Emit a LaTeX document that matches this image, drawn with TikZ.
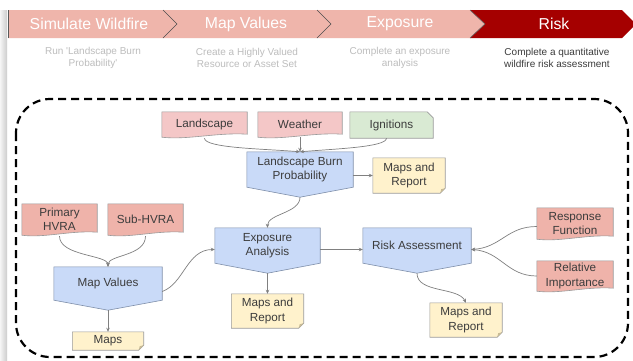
\documentclass[tikz,border=0pt]{standalone}
\usepackage{fontspec}
\setmainfont{Liberation Sans}
\usetikzlibrary{arrows.meta,calc,backgrounds}
\definecolor{chevl}{HTML}{EFB5AB}
\definecolor{chevd}{HTML}{A50000}
\definecolor{subg}{HTML}{BDBDBD}
\definecolor{pinka}{HTML}{F4C7C7}
\definecolor{pinkb}{HTML}{EFB3AA}
\definecolor{greenf}{HTML}{D9EAD3}
\definecolor{yellowf}{HTML}{FFF2CC}
\definecolor{bluef}{HTML}{C9DAF8}
\definecolor{bluebd}{HTML}{7F8FAA}
\definecolor{bordc}{HTML}{9A9A9A}
\definecolor{foldc}{HTML}{C8BB96}
\definecolor{textc}{HTML}{3C3C3C}
\definecolor{connc}{HTML}{808080}
\tikzset{
  box/.style={inner sep=0pt, align=center, font=\fontsize{11.7}{14.5}\selectfont, text=textc},
  conn/.style={draw=connc, line width=0.7pt, -{Stealth[length=4pt,width=3.5pt]}},
  shp/.style={line width=0.6pt},
  chevtxt/.style={font=\fontsize{15.8}{18}\selectfont, text=white},
  subtxt/.style={font=\fontsize{10}{11.8}\selectfont, text=subg, align=center},
}
\newcommand{\docshape}[2]{%
  \begin{scope}[on background layer]
  \path[shp, fill=#2, draw=bordc] (#1.north west) -- (#1.north east) -- ([yshift=3pt]#1.south east)
    .. controls ($(#1.south west)!0.65!(#1.south east)+(0,-5)$) and ($(#1.south west)!0.3!(#1.south east)+(0,3)$) .. (#1.south west) -- cycle;
  \end{scope}}
\newcommand{\procshape}[1]{%
  \begin{scope}[on background layer]
  \path[shp, fill=bluef, draw=bluebd] (#1.north west) -- (#1.north east) -- (#1.south east)
    -- ([yshift=-10pt]#1.south) -- (#1.south west) -- cycle;
  \end{scope}
  \coordinate (#1-tip) at ([yshift=-10pt]#1.south);}
\newcommand{\noteshape}[1]{%
  \begin{scope}[on background layer]
  \path[shp, fill=yellowf, draw=bordc] (#1.north west) -- (#1.north east) -- ([yshift=5pt]#1.south east)
    -- ([xshift=-5pt]#1.south east) -- (#1.south west) -- cycle;
  \path[fill=foldc] ([yshift=5pt]#1.south east) -- ([xshift=-5pt]#1.south east) -- ([xshift=-4pt,yshift=4pt]#1.south east) -- cycle;
  \end{scope}}
\newcommand{\topnote}[2]{%
  \begin{scope}[on background layer]
  \path[shp, fill=#2, draw=bordc] (#1.north west) -- ([xshift=-6pt]#1.north east) -- ([yshift=-6pt]#1.north east)
    -- (#1.south east) -- (#1.south west) -- cycle;
  \end{scope}}
\begin{document}
\begin{tikzpicture}[x=1pt,y=-1pt]
\useasboundingbox (0,0) rectangle (633,360);
\begin{scope}[on background layer]
\fill[white] (0,0) rectangle (633,360);
\end{scope}
% left shadow strip
\shade[left color=gray!8, right color=gray!40] (0,10) rectangle (7,360);
% chevron bar
\fill[chevl] (8,10) -- (470,10) -- (485,24) -- (470,38) -- (8,38) -- cycle;
\fill[chevd] (470,10) -- (622,10) -- (636,24) -- (622,38) -- (470,38) -- (485,24) -- cycle;
\draw[gray!70!black, line width=0.5pt] (8,10) -- (8,38);
\draw[black!70, line width=0.6pt] (163,10) -- (177,24) -- (163,38);
\draw[black!70, line width=0.6pt] (317,10) -- (331,24) -- (317,38);
\draw[black!60, line width=0.6pt] (470,10) -- (485,24) -- (470,38);
\node[chevtxt] (c1) at (89,24) {Simulate Wildfire};
\node[chevtxt] (c2) at (246,24) {Map Values};
\node[chevtxt] (c3) at (400,24) {Exposure};
\node[chevtxt] (c4) at (554,24) {Risk};
\node[subtxt] (s1) at (93,58) {Run \textquotesingle Landscape Burn\\Probability\textquotesingle};
\node[subtxt] (s2) at (247,58) {Create a Highly Valued\\Resource or Asset Set};
\node[subtxt] (s3) at (400,58) {Complete an exposure\\analysis};
\node[subtxt, text=textc] (s4) at (557,58) {Complete a quantitative\\wildfire risk assessment};
% dashed frame
\draw[line width=2.2pt, dash pattern=on 8pt off 5pt, rounded corners=34pt] (16,99) rectangle (628,357);
% nodes
\node[box, minimum width=85pt, minimum height=25pt] (land) at (204.5,124.5) {Landscape};
\docshape{land}{pinka}
\node[box, minimum width=84pt, minimum height=25pt] (weather) at (300,124.5) {Weather};
\docshape{weather}{pinka}
\node[box, minimum width=83pt, minimum height=26pt] (ign) at (391.5,125) {Ignitions};
\topnote{ign}{greenf}
\node[box, minimum width=106pt, minimum height=35pt] (lbp) at (300,169.5) {Landscape Burn\\Probability};
\procshape{lbp}
\node[box, minimum width=72pt, minimum height=35pt] (mr1) at (409,175.5) {Maps and\\Report};
\noteshape{mr1}
\node[box, minimum width=75pt, minimum height=31pt] (phvra) at (59.5,219.5) {Primary\\HVRA};
\docshape{phvra}{pinkb}
\node[box, minimum width=75pt, minimum height=31pt] (shvra) at (145.5,219.5) {Sub-HVRA};
\docshape{shvra}{pinkb}
\node[box, minimum width=108pt, minimum height=33pt] (mv) at (108,283.5) {Map Values};
\procshape{mv}
\node[box, minimum width=71pt, minimum height=18pt] (maps) at (108,341) {Maps};
\noteshape{maps}
\node[box, minimum width=105pt, minimum height=35pt] (exa) at (267.5,245.5) {Exposure\\Analysis};
\procshape{exa}
\node[box, minimum width=72pt, minimum height=34pt] (mr2) at (267.5,311) {Maps and\\Report};
\noteshape{mr2}
\node[box, minimum width=108pt, minimum height=35pt] (ra) at (417,245.5) {Risk Assessment};
\procshape{ra}
\node[box, minimum width=76pt, minimum height=31pt] (resp) at (575,223.5) {Response\\Function};
\docshape{resp}{pinkb}
\node[box, minimum width=76pt, minimum height=30pt] (relimp) at (575,276) {Relative\\Importance};
\docshape{relimp}{pinkb}
\node[box, minimum width=72pt, minimum height=34pt] (mr3) at (466,320) {Maps and\\Report};
\noteshape{mr3}
% connectors
\draw[conn] ([yshift=-1pt]land.south) .. controls +(0,10) and +(-35,-3) .. (lbp.north);
\draw[conn] (weather.south) -- (lbp.north);
\draw[conn] ([xshift=-5pt]ign.south) .. controls +(0,9) and +(35,-3) .. (lbp.north);
\draw[conn] (lbp.east |- mr1.west) -- (mr1.west);
\draw[conn] (lbp-tip) .. controls +(0,16) and +(0,-14) .. (exa.north);
\draw[conn] ([yshift=-1pt]phvra.south) .. controls +(0,20) and +(0,-12) .. (mv.north);
\draw[conn] ([yshift=-1pt]shvra.south) .. controls +(0,20) and +(0,-12) .. (mv.north);
\draw[conn] (mv-tip) -- (maps.north);
\draw[conn] ([yshift=-8pt]mv.east) .. controls +(22,-8) and +(-28,0) .. ([yshift=-4pt]exa.west);
\draw[conn] (exa-tip) -- (mr2.north);
\draw[conn] ([yshift=-4pt]exa.east) -- ([yshift=-4pt]ra.west);
\draw[conn] ([yshift=-3pt]resp.west) .. controls +(-30,0) and +(30,-2) .. ([yshift=-4pt]ra.east);
\draw[conn] (relimp.west) .. controls +(-30,0) and +(30,2) .. ([yshift=-4pt]ra.east);
\draw[conn] (ra-tip) .. controls +(0,20) and +(-8,-16) .. (mr3.north);
\end{tikzpicture}
\end{document}
